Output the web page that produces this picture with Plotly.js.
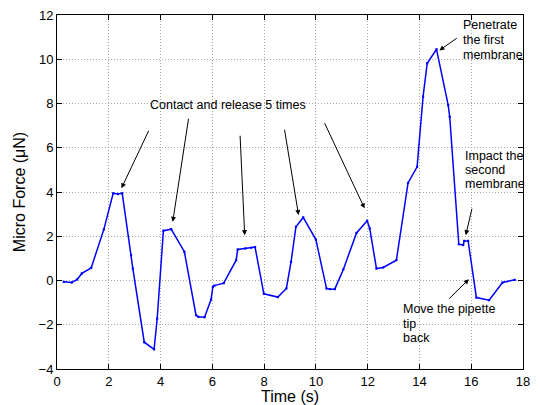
<!DOCTYPE html>
<html>
<head>
<meta charset="utf-8">
<script src="https://cdn.plot.ly/plotly-3.0.1.min.js"></script>
<style>html,body{margin:0;padding:0;background:#fff;}#chart{width:540px;height:405px;}</style>
</head>
<body>
<div id="chart"></div>
<script>
// Data
const timeS = [0.26, 0.57, 0.78, 0.96, 1.32, 1.81, 2.17, 2.35, 2.52, 2.86, 2.93, 3.37, 3.75, 3.87,
  4.11, 4.41, 4.92, 5.37, 5.46, 5.70, 5.95, 6.02, 6.08, 6.44, 6.92, 6.98, 7.28, 7.50, 7.65,
  7.99, 8.53, 8.86, 9.04, 9.23, 9.51, 10.00, 10.41, 10.54, 10.73, 11.06, 11.57, 11.98, 12.08,
  12.34, 12.60, 13.11, 13.56, 13.91, 14.14, 14.30, 14.66, 15.11, 15.17, 15.52, 15.69, 15.73,
  15.88, 16.20, 16.69, 17.21, 17.68];
const forceUN = [-0.06, -0.09, 0.05, 0.32, 0.57, 2.31, 3.94, 3.91, 3.94, 1.15, 0.54, -2.79, -3.11, -1.72,
  2.25, 2.32, 1.30, -1.57, -1.64, -1.66, -0.86, -0.29, -0.23, -0.12, 0.92, 1.40, 1.45, 1.48, 1.51,
  -0.60, -0.75, -0.36, 0.84, 2.43, 2.85, 1.85, -0.36, -0.39, -0.39, 0.50, 2.15, 2.70, 2.35,
  0.54, 0.59, 0.92, 4.41, 5.14, 8.31, 9.82, 10.45, 7.93, 7.40, 1.64, 1.60, 1.79,
  1.79, -0.77, -0.89, -0.09, 0.03];

const xTicks = [0, 2, 4, 6, 8, 10, 12, 14, 16, 18];
const yTicks = [-4, -2, 0, 2, 4, 6, 8, 10, 12];

// Annotation texts and arrows (head x,y ; tail x,y) in data units
const labelTexts = ["Contact and release 5 times", "Penetrate", "the first", "membrane",
  "Impact the", "second", "membrane", "Move the pipette", "tip", "back"];
const labelX = [6.61, 15.61, 15.61, 15.61, 15.67, 15.67, 15.67, 13.28, 13.28, 13.28];
const labelY = [7.94, 11.53, 10.85, 10.20, 5.64, 5.00, 4.35, -1.31, -1.98, -2.58];
const arrowHeadX = [2.49, 4.47, 7.25, 9.33, 11.88, 14.77, 15.79, 15.91];
const arrowHeadY = [4.17, 2.65, 2.05, 2.96, 3.26, 10.40, 2.05, 0.06];
const arrowTailX = [3.57, 5.09, 7.07, 8.78, 10.31, 15.50, 16.04, 15.09];
const arrowTailY = [6.84, 7.38, 6.61, 6.88, 7.18, 11.00, 3.31, -0.89];

const FONT = "Liberation Sans, Arial, Helvetica, sans-serif";

const annotations = [];
labelTexts.forEach((t, i) => {
  annotations.push({
    x: labelX[i], y: labelY[i], xref: 'x', yref: 'y', text: t, showarrow: false,
    xanchor: i === 0 ? 'center' : 'left', yanchor: 'middle',
    font: {family: FONT, size: 12.5, color: '#000'}
  });
});
arrowHeadX.forEach((hx, i) => {
  annotations.push({
    x: hx, y: arrowHeadY[i], ax: arrowTailX[i], ay: arrowTailY[i],
    xref: 'x', yref: 'y', axref: 'x', ayref: 'y', text: '', showarrow: true,
    arrowhead: 2, arrowsize: 1, arrowwidth: 1, arrowcolor: '#000', standoff: 0, startstandoff: 0
  });
});

const trace = {
  x: timeS, y: forceUN, type: 'scatter', mode: 'lines+markers',
  line: {color: '#0000ff', width: 1.5},
  marker: {color: '#0000ff', size: 2.2, symbol: 'square'},
  hoverinfo: 'skip'
};

const axisCommon = {
  showline: true, linecolor: '#000', linewidth: 1, mirror: 'ticks',
  ticks: 'inside', ticklen: 5, tickcolor: '#000', tickwidth: 1,
  showgrid: true, gridcolor: '#a8a8a8', gridwidth: 1, griddash: '1px,2px',
  zeroline: false, tickfont: {family: FONT, size: 13, color: '#000'}
};

const layout = {
  width: 540, height: 405,
  margin: {l: 56.5, r: 17, t: 15.3, b: 36.4, pad: 0},
  paper_bgcolor: '#fff', plot_bgcolor: '#fff',
  showlegend: false,
  xaxis: Object.assign({}, axisCommon, {
    range: [0, 18], tickvals: xTicks, ticktext: xTicks.map(String),
    title: {text: 'Time (s)', font: {family: FONT, size: 16, color: '#000'}, standoff: 0}
  }),
  yaxis: Object.assign({}, axisCommon, {
    range: [-4, 12], tickvals: yTicks,
    ticktext: yTicks.map(v => v < 0 ? '\u2212' + Math.abs(v) : String(v)),
    title: {text: 'Micro Force (\u03bcN)', font: {family: FONT, size: 16, color: '#000'}, standoff: 8}
  }),
  annotations: annotations
};

Plotly.newPlot('chart', [trace], layout, {displayModeBar: false, staticPlot: true});
</script>
</body>
</html>
